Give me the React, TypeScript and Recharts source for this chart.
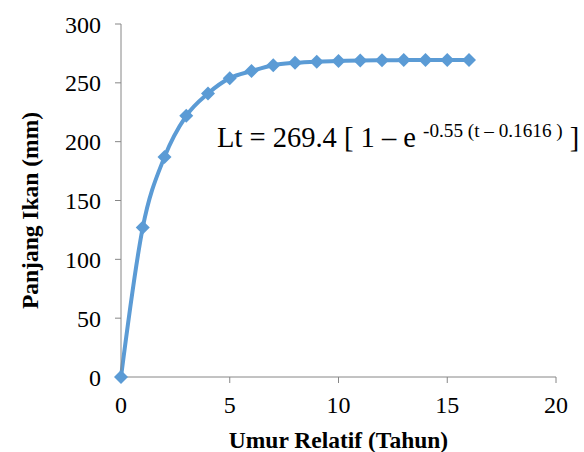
import React from 'react';
import { LineChart, Line, XAxis, YAxis, Customized } from 'recharts';

const ages = [0, 1, 2, 3, 4, 5, 6, 7, 8, 9, 10, 11, 12, 13, 14, 15, 16];
const lengths = [0, 127, 187, 222, 241, 254, 260, 265, 267, 268, 268.5, 269, 269.2, 269.3, 269.4, 269.4, 269.4];
const xTicks = [0, 5, 10, 15, 20];
const yTicks = [0, 50, 100, 150, 200, 250, 300];

const data = ages.map((t, i) => ({ t, lt: lengths[i] }));

const FONT = "'Times New Roman', 'Liberation Serif', serif";
const BLUE = '#5B9BD5';
const AXIS = '#868686';

const Diamond = (props: any) => {
  const { cx, cy, index } = props;
  if (cx == null || cy == null) return null;
  const r = 7;
  return (
    <path
      key={`d-${index}`}
      d={`M${cx},${cy - r}L${cx + r},${cy}L${cx},${cy + r}L${cx - r},${cy}Z`}
      fill={BLUE}
    />
  );
};

const YTitle = (props: any) => {
  const vb = props.viewBox || {};
  const x = vb.x + 38;
  const y = vb.y + vb.height / 2 + 10;
  return (
    <text x={x} y={y} transform={`rotate(-90, ${x}, ${y})`} textAnchor="middle"
      style={{ fontFamily: FONT }} fontWeight="bold" fontSize={23.5} fill="#000">
      Panjang Ikan (mm)
    </text>
  );
};

const XTitle = (props: any) => {
  const vb = props.viewBox || {};
  return (
    <text x={vb.x + vb.width / 2} y={vb.y + 71} textAnchor="middle"
      style={{ fontFamily: FONT }} fontWeight="bold" fontSize={23.5} fill="#000">
      Umur Relatif (Tahun)
    </text>
  );
};

const Equation = () => (
  <text x={217} y={147} style={{ fontFamily: FONT }} fontSize={28.5} fill="#000">
    Lt = 269.4 [ 1 – e{' '}
    <tspan fontSize={19.2} dy={-10}>-0.55 (t – 0.1616 )</tspan>
    <tspan dy={10}> ]</tspan>
  </text>
);

export default function App() {
  return (
    <div style={{ position: 'absolute', left: 0, top: 0, background: '#fff', fontFamily: FONT }}>
      <LineChart width={584} height={452} data={data} style={{ fontFamily: FONT }}
        margin={{ top: 24, right: 28, bottom: 0, left: 0 }}>
        <XAxis dataKey="t" type="number" domain={[0, 20]} ticks={xTicks}
          height={75} stroke={AXIS} tickSize={6} tickMargin={13}
          tick={{ fill: '#000', fontSize: 24, style: { fontFamily: FONT } }}
          label={<XTitle />} />
        <YAxis type="number" domain={[0, 300]} ticks={yTicks}
          width={121} stroke={AXIS} tickSize={6} tickMargin={14}
          tick={{ fill: '#000', fontSize: 24, style: { fontFamily: FONT } }}
          label={<YTitle />} />
        <Line type="monotone" dataKey="lt" stroke={BLUE} strokeWidth={4}
          dot={Diamond} activeDot={false} isAnimationActive={false} />
        <Customized component={Equation} />
      </LineChart>
    </div>
  );
}
